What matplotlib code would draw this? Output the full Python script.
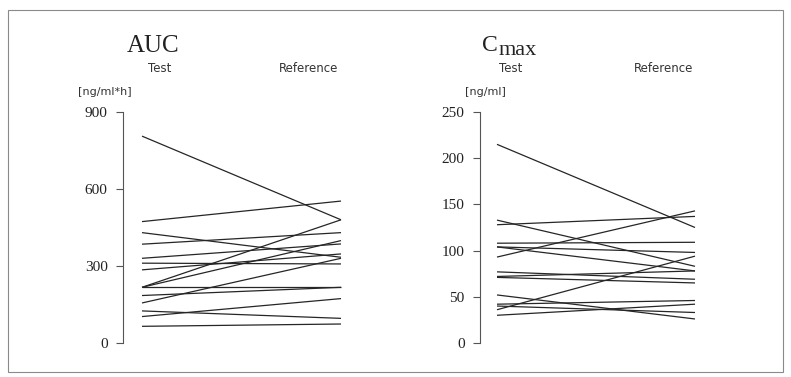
import matplotlib
matplotlib.use("Agg")
import matplotlib.pyplot as plt
from matplotlib.patches import Rectangle

# Individual subject values (Test -> Reference)
auc_test = [806, 473, 430, 385, 330, 311, 285, 217, 217, 217, 185, 156, 125, 103, 65]
auc_ref = [480, 553, 334, 430, 386, 308, 347, 480, 399, 217, 217, 330, 96, 173, 74]
auc_ticks = [0, 300, 600, 900]

cmax_test = [215, 133, 128, 108, 104, 104, 93, 77, 72, 71, 52, 42, 40, 36, 30]
cmax_ref = [125, 83, 137, 109, 98, 78, 143, 69, 78, 65, 26, 46, 33, 94, 42]
cmax_ticks = [0, 50, 100, 150, 200, 250]

groups = ["Test", "Reference"]

W, H = 791, 377
fig = plt.figure(figsize=(W / 100, H / 100), dpi=100)
fig.patch.set_facecolor("white")

serif = "Liberation Serif"
sans = "DejaVu Sans"
ink = "#262626"


def px(x, y):
    return x / W, 1 - y / H


def panel(left, x0, x1, ymax, ticks, test, ref):
    top, bottom = 112, 343
    width = x1 - left + 4
    ax = fig.add_axes([left / W, (H - bottom) / H, width / W, (bottom - top) / H])
    a = -(x0 - left) / (x1 - x0)
    b = a + width / (x1 - x0)
    for t, r in zip(test, ref):
        ax.plot([0, 1], [t, r], color=ink, lw=0.9, solid_capstyle="butt")
    ax.set_xlim(a, b)
    ax.set_ylim(0, ymax)
    for s in ["top", "right", "bottom"]:
        ax.spines[s].set_visible(False)
    ax.spines["left"].set_color("#555555")
    ax.spines["left"].set_linewidth(0.8)
    ax.set_xticks([])
    ax.set_yticks(ticks)
    ax.set_yticklabels([str(t) for t in ticks], fontfamily=serif, fontsize=11, color="#222222")
    ax.tick_params(axis="y", length=5, width=0.8, color="#555555", pad=6)
    ax.patch.set_alpha(0)
    return ax


panel(123, 142, 341, 900, auc_ticks, auc_test, auc_ref)
panel(480, 497, 695, 250, cmax_ticks, cmax_test, cmax_ref)

# Titles and labels
fig.text(*px(127, 52), "AUC", fontfamily=serif, fontsize=18, va="baseline", ha="left", color="#222222")
fig.text(*px(160, 68), groups[0], fontfamily=sans, fontsize=8.5, ha="center", va="center", color="#333333")
fig.text(*px(309, 68), groups[1], fontfamily=sans, fontsize=8.5, ha="center", va="center", color="#333333")
fig.text(*px(78, 92), "[ng/ml*h]", fontfamily=sans, fontsize=8, ha="left", va="center", color="#333333")

fig.text(*px(482, 51), "C", fontfamily=serif, fontsize=17, ha="left", va="baseline", color="#222222")
fig.text(*px(499, 55), "max", fontfamily=serif, fontsize=16, ha="left", va="baseline", color="#222222")
fig.text(*px(511, 68), groups[0], fontfamily=sans, fontsize=8.5, ha="center", va="center", color="#333333")
fig.text(*px(664, 68), groups[1], fontfamily=sans, fontsize=8.5, ha="center", va="center", color="#333333")
fig.text(*px(465, 92), "[ng/ml]", fontfamily=sans, fontsize=8, ha="left", va="center", color="#333333")

# Outer frame
fig.add_artist(Rectangle((8 / W, (H - 372) / H), 775 / W, 362 / H, transform=fig.transFigure,
                         fill=False, edgecolor="#8a8a8a", lw=0.8))

fig.savefig("out.png", dpi=100)
